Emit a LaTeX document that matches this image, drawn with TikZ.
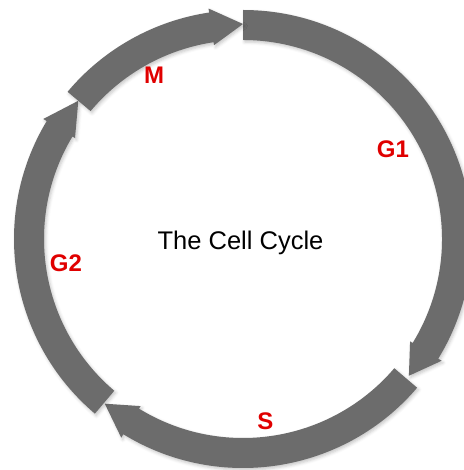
\documentclass[tikz,border=0pt]{standalone}
\usepackage{fontspec}
\setmainfont{Liberation Sans}
\usetikzlibrary{shadows.blur}

\definecolor{ringgray}{RGB}{108,108,108}
\definecolor{phasered}{RGB}{224,0,0}

% ring radii (outer, inner, middle) and arrowhead barb radii
\def\Ro{229}
\def\Ri{199}
\def\Rm{215}
\def\Rbo{233}
\def\Rbi{196}

% one phase of the cycle: tail angle, head base angle, tip angle (clockwise)
\newcommand\phasearrow[3]{%
  \fill[phaseseg]
    (#1:\Ro) arc[start angle=#1, end angle=#2, radius=\Ro]
    -- (#2:\Rbo) -- (#3:\Rm) -- (#2:\Rbi) -- (#2:\Ri)
    arc[start angle=#2, end angle=#1, radius=\Ri] -- cycle;}

\tikzset{
  phaseseg/.style={ringgray, blur shadow={shadow xshift=1.5pt, shadow yshift=-2pt,
      shadow blur radius=3pt, shadow opacity=22}},
  phaselabel/.style={anchor=base, inner sep=0pt, text=phasered,
      font=\fontsize{24}{28}\bfseries\selectfont},
  titletext/.style={anchor=base, inner sep=0pt, font=\fontsize{25.5}{30}\selectfont},
}

\begin{document}
\begin{tikzpicture}[x=1pt, y=1pt]
  \useasboundingbox (-243,-231) rectangle (220,239);

  % the four phases, drawn clockwise from the top
  \phasearrow{90}{-31.5}{-39.5}     % G1
  \phasearrow{-40.5}{-121.5}{-130}  % S
  \phasearrow{229.7}{149}{140}      % G2
  \phasearrow{140}{98.5}{90}        % M

  \node[titletext] (title) at (-2.5,-11) {The Cell Cycle};

  % phase labels
  \node[phaselabel] (lblM)  at (-89,155.7)  {M};
  \node[phaselabel] (lblG1) at (150,81.7)   {G1};
  \node[phaselabel] (lblG2) at (-177,-32.7) {G2};
  \node[phaselabel] (lblS)  at (22.5,-190.5) {S};
\end{tikzpicture}
\end{document}
